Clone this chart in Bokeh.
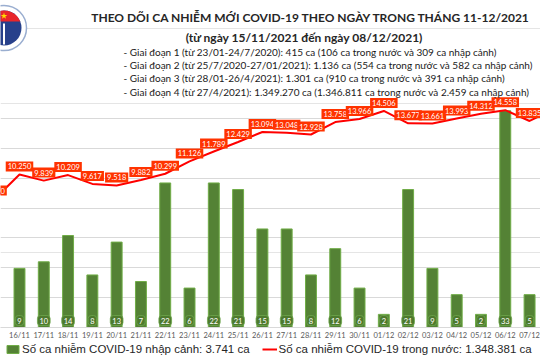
import numpy as np
from bokeh.plotting import figure
from bokeh.models import (Range1d, FixedTicker, ColumnDataSource, Legend,
                          LegendItem, Grid)
from bokeh.core.properties import value
from bokeh.embed import file_html
from bokeh.resources import INLINE

# ---------------- data ----------------
dates = ["15/11", "16/11", "17/11", "18/11", "19/11", "20/11", "21/11", "22/11",
         "23/11", "24/11", "25/11", "26/11", "27/11", "28/11", "29/11", "30/11",
         "01/12", "02/12", "03/12", "04/12", "05/12", "06/12", "07/12", "08/12"]
domestic = [8640, 10250, 9839, 10209, 9617, 9518, 9882, 10299,
            11126, 11789, 12429, 13094, 13048, 12928, 13758, 13966,
            14506, 13677, 13661, 13993, 14312, 14558, 13835, 14630]
import_dates = dates[1:23]
imports = [9, 10, 14, 8, 13, 7, 22, 6, 22, 21, 15, 15, 8, 12, 6,
           2, 21, 9, 5, 2, 33, 5]

title = "THEO DÕI CA NHIỄM MỚI COVID-19 THEO NGÀY TRONG THÁNG 11-12/2021"
subtitle = "(từ ngày 15/11/2021 đến ngày 08/12/2021)"
bullets = [
    "- Giai đoạn 1 (từ 23/01-24/7/2020): 415 ca (106 ca trong nước và 309 ca nhập cảnh)",
    "- Giai đoạn 2 (từ 25/7/2020-27/01/2021): 1.136 ca (554 ca trong nước và 582 ca nhập cảnh)",
    "- Giai đoạn 3 (từ 28/01-26/4/2021): 1.301 ca (910 ca trong nước và 391 ca nhập cảnh)",
    "- Giai đoạn 4 (từ 27/4/2021): 1.349.270 ca (1.346.811 ca trong nước và 2.459 ca nhập cảnh)",
]
legend_import = "Số ca nhiễm COVID-19 nhập cảnh: 3.741 ca"
legend_domestic = "Số ca nhiễm COVID-19 trong nước: 1.348.381 ca"


def fmt(v):
    return f"{v:,}".replace(",", ".")


idx = {d: i for i, d in enumerate(dates)}
line_src = ColumnDataSource(dict(x=[idx[d] for d in dates], y=domestic,
                                 lbl=[fmt(v) for v in domestic]))
bar_src = ColumnDataSource(dict(x=[idx[d] for d in import_dates], top=imports,
                                zero=[0] * len(imports),
                                lbl=[str(v) for v in imports]))

# ---------------- figure ----------------
p = figure(width=540, height=360, output_backend="svg", toolbar_location=None,
           x_range=Range1d(0.218, 22.45), y_range=Range1d(-2210, 21904),
           y_axis_location=None, min_border_left=0, min_border_right=0,
           min_border_top=0, min_border_bottom=0)
p.outline_line_color = None
p.background_fill_color = "white"
p.border_fill_color = "white"
p.xgrid.grid_line_color = None
p.extra_y_ranges = {"bars": Range1d(-5.02, 49.77), "px_y": Range1d(360, 0)}
p.extra_x_ranges = {"px_x": Range1d(0, 540)}

grid = Grid(dimension=1, ticker=FixedTicker(ticks=list(range(0, 14001, 2000))),
            grid_line_color="#d9d9d9", grid_line_width=1)
p.add_layout(grid)

ax = p.xaxis[0]
ax.fixed_location = 0
ax.ticker = FixedTicker(ticks=list(range(len(dates))))
ax.major_label_overrides = {i: d for i, d in enumerate(dates)}
ax.major_tick_out = 0
ax.major_tick_in = 0
ax.minor_tick_out = 0
ax.minor_tick_in = 0
ax.major_label_standoff = 3
ax.axis_line_color = "#d9d9d9"
ax.major_label_text_font = "Lato"
ax.major_label_text_font_size = "7.5px"
ax.major_label_text_color = "#595959"

# bars
bars = p.vbar(x="x", top="top", width=0.45, source=bar_src, y_range_name="bars",
              fill_color="#548235", line_color="#70ad47", line_width=1)
# line
line = p.line(x="x", y="y", source=line_src, line_color="#ff0000", line_width=2)

# line labels
p.text(x="x", y="y", text="lbl", source=line_src, y_offset=-8,
       text_align="center", text_baseline="middle",
       text_font=value("Lato"), text_font_size="7.5px", text_color="white",
       background_fill_color="#ff3300", padding=2, border_line_color=None)

# bar labels
p.text(x="x", y="zero", text="lbl", source=bar_src, y_range_name="bars",
       y_offset=-7, text_align="center", text_baseline="middle",
       text_font=value("Lato"), text_font_size="7.5px", text_color="white",
       background_fill_color="#4e7a2e", padding=2, border_radius=3,
       border_line_color="#6fa84e", border_line_width=0.8)

# ---------------- header ----------------
hdr = dict(x_range_name="px_x", y_range_name="px_y")
cx, cy = 3.5, 27.5
p.circle(x=[cx], y=[cy], radius=22.5, fill_color="white",
         line_color="#9aaed0", line_width=1.5, **hdr)
p.circle(x=[cx], y=[cy], radius=17.5, fill_color="#27408b", line_color=None, **hdr)
t0 = np.arcsin(6.5 / 17.5)
tt = np.linspace(t0, np.pi - t0, 30)
p.patch(x=cx + 17.5 * np.cos(tt), y=cy - 17.5 * np.sin(tt),
        fill_color="#e8262b", line_color=None, **hdr)
p.scatter(x=[cx], y=[15.5], marker="star", size=7, fill_color="#ffdd00",
          line_color=None, **hdr)
p.segment(x0=[cx], y0=[23], x1=[cx], y1=[44], line_color="white",
          line_width=2, **hdr)

p.text(x=[310.5], y=[17], text=[title], text_font=value("Lato"),
       text_font_style="bold", text_font_size="12px", text_color="#262626",
       text_align="center", text_baseline="middle", **hdr)
p.text(x=[304], y=[37], text=[subtitle], text_font=value("Lato"),
       text_font_style="bold", text_font_size="12px", text_color="#262626",
       text_align="center", text_baseline="middle", **hdr)
p.text(x=[123] * 4, y=[51, 64.5, 77.5, 91], text=bullets, text_font=value("Lato"),
       text_font_size="10px", text_color="#1a1a1a",
       text_align="left", text_baseline="middle", **hdr)

# ---------------- legend ----------------
legend = Legend(items=[LegendItem(label=legend_import, renderers=[bars]),
                       LegendItem(label=legend_domestic, renderers=[line])],
                orientation="horizontal", location="bottom_left",
                glyph_width=15, glyph_height=10, label_height=12,
                label_standoff=2, spacing=12,
                padding=0, margin=5, border_line_color=None,
                background_fill_alpha=0,
                label_text_font="Liberation Sans", label_text_font_size="11.5px",
                label_text_color="#262626")
p.add_layout(legend)

open("out.html", "w").write(file_html(p, INLINE))
